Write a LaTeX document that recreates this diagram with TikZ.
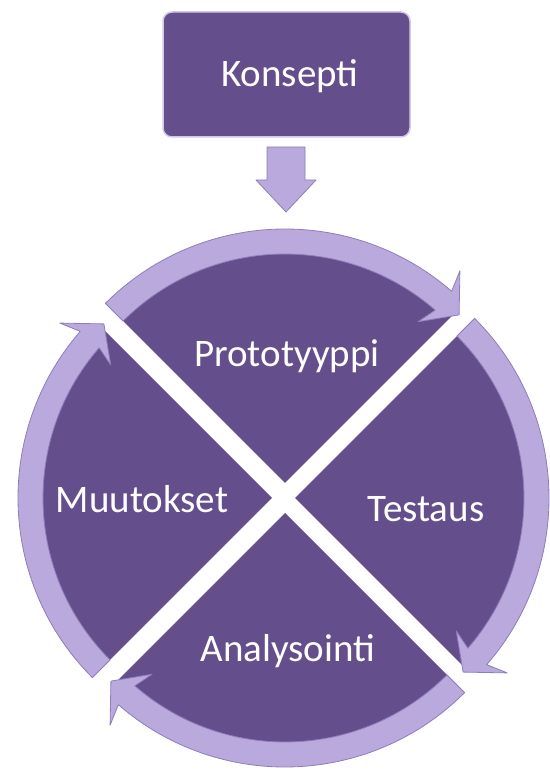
\documentclass[tikz,border=0pt]{standalone}
\usepackage{fontspec}
\setmainfont{Carlito}
\usetikzlibrary{calc}
\definecolor{plum}{HTML}{654E8C}
\definecolor{lav}{HTML}{B9A9DC}
\definecolor{lavdark}{HTML}{8F7DBA}
\definecolor{lavlight}{HTML}{D3C8EC}
\tikzset{
  sector/.style={fill=plum, draw=none},
  band/.style={fill=lav, draw=lavdark, line width=0.8pt, line join=round},
  lbl/.style={text=white, font=\fontsize{39}{39}\selectfont, anchor=base, inner sep=0pt},
  conbox/.style={fill=plum, draw=lavlight, line width=1.5pt, rounded corners=9pt},
}
\newcommand{\quadseg}[2]{%
  \begin{scope}[shift={(#2)}]
    \fill[sector] (0,0) -- ({#1+45}:241) arc[start angle={#1+45}, end angle={#1-45}, radius=241] -- cycle;
    \path[band] ({#1+45}:229) arc[start angle={#1+45}, end angle={#1-41}, radius=229]
      -- ({#1-39.5}:209) -- ({#1-46}:242) -- ({#1-39.5}:275) -- ({#1-41}:254)
      arc[start angle={#1-41}, end angle={#1+45}, radius=254] -- cycle;
  \end{scope}}
\begin{document}
\begin{tikzpicture}[x=1pt,y=1pt]
  \fill[white] (0,0) rectangle (549,773);
  \useasboundingbox (0,0) rectangle (549,773);
  % apexes of the four exploded quadrants
  \coordinate (apT) at (285,290);
  \coordinate (apR) at (295,275);
  \coordinate (apB) at (285,260);
  \coordinate (apL) at (272,275);
  \quadseg{90}{apT}
  \quadseg{0}{apR}
  \quadseg{-90}{apB}
  \quadseg{180}{apL}
  % concept box
  \path[conbox] (163,636) rectangle (410,761);
  \node[lbl] (konsepti) at (290,686) {Konsepti};
  % block arrow down
  \coordinate (arrtip) at (286,561);
  \path[band] (267,626) -- (305,626) -- (305,593) -- (316,593) -- (arrtip) -- (256,593) -- (267,593) -- cycle;
  % labels
  \node[lbl] (proto) at (287,406) {Prototyyppi};
  \node[lbl] (muut) at (142,260) {Muutokset};
  \node[lbl] (test) at (426,251) {Testaus};
  \node[lbl] (anal) at (288,111) {Analysointi};
\end{tikzpicture}
\end{document}
